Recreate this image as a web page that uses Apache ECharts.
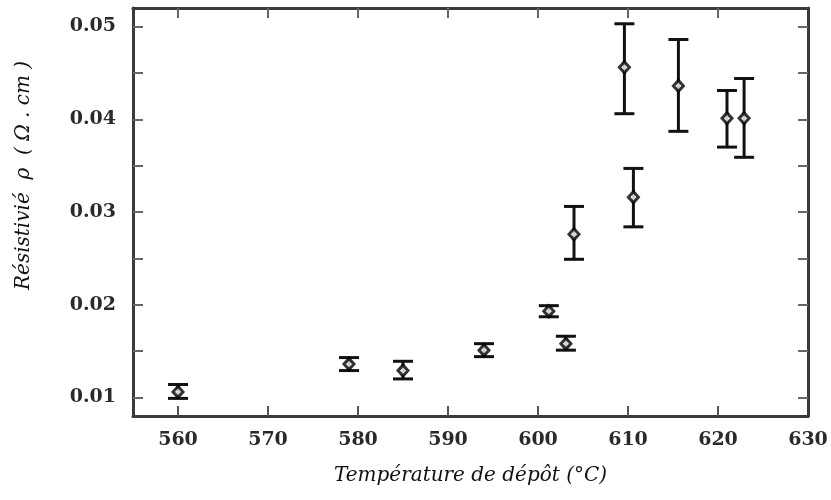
<!DOCTYPE html>
<html>
<head>
<meta charset="utf-8">
<script src="https://cdn.jsdelivr.net/npm/echarts@6/dist/echarts.min.js"></script>
<style>
  html, body { margin: 0; padding: 0; background: #fff; }
  #chart { width: 831px; height: 500px; }
</style>
</head>
<body>
<div id="chart"></div>
<script>
// deposition temperature (°C) and resistivity (Ω.cm)
const temps = [560, 579, 585, 594, 601.2, 603.1, 604, 609.6, 610.6, 615.6, 621, 622.9];
const rho = [0.0106, 0.0136, 0.0129, 0.0151, 0.0193, 0.0158, 0.0276, 0.0456, 0.0316, 0.0436, 0.0401, 0.0401];
const rhoLow = [0.0099, 0.0129, 0.0120, 0.0144, 0.0187, 0.0151, 0.0249, 0.0406, 0.0284, 0.0387, 0.0370, 0.0359];
const rhoHigh = [0.0114, 0.0143, 0.0139, 0.0158, 0.0199, 0.0166, 0.0306, 0.0503, 0.0347, 0.0486, 0.0431, 0.0444];

const xTicks = [560, 570, 580, 590, 600, 610, 620];
const xLabels = [560, 570, 580, 590, 600, 610, 620, 630];
const yTicks = [0.01, 0.015, 0.02, 0.025, 0.03, 0.035, 0.04, 0.045, 0.05];
const yLabels = [0.01, 0.02, 0.03, 0.04, 0.05];

const ink = '#111';
const frame = { show: true, lineStyle: { color: '#3a3a3a', width: 3 } };
const labelFont = {
  fontFamily: 'DejaVu Serif',
  fontWeight: 'bold',
  fontSize: 19,
  color: '#2a2a2a',
};

const chart = echarts.init(document.getElementById('chart'));

const errData = temps.map((t, i) => [t, rhoLow[i], rhoHigh[i]]);

chart.setOption({
  animation: false,
  grid: { left: 133, top: 8, right: 23, bottom: 84 },
  xAxis: [
    {
      type: 'value',
      position: 'bottom',
      min: 555,
      max: 630,
      axisLine: frame,
      splitLine: { show: false },
      axisTick: {
        show: true, inside: true, length: 10, customValues: xTicks,
        lineStyle: { color: '#555', width: 2 },
      },
      axisLabel: { ...labelFont, margin: 15, customValues: xLabels },
      name: 'Température de dépôt (°C)',
      nameLocation: 'middle',
      nameGap: 50,
      nameTextStyle: {
        fontFamily: 'DejaVu Serif', fontStyle: 'italic',
        fontSize: 20, color: '#111',
      },
    },
    {
      type: 'value',
      position: 'top',
      min: 555,
      max: 630,
      axisLine: frame,
      splitLine: { show: false },
      axisTick: {
        show: true, inside: true, length: 10, customValues: xTicks,
        lineStyle: { color: '#666', width: 2 },
      },
      axisLabel: { show: false },
    },
  ],
  yAxis: [
    {
      type: 'value',
      position: 'left',
      min: 0.008,
      max: 0.052,
      axisLine: frame,
      splitLine: { show: false },
      axisTick: {
        show: true, inside: true, length: 10, customValues: yTicks,
        lineStyle: { color: '#666', width: 2 },
      },
      axisLabel: {
        ...labelFont, margin: 17, customValues: yLabels,
        formatter: (v) => v.toFixed(2),
      },
    },
    {
      type: 'value',
      position: 'right',
      min: 0.008,
      max: 0.052,
      axisLine: frame,
      splitLine: { show: false },
      axisTick: {
        show: true, inside: true, length: 10, customValues: yTicks,
        lineStyle: { color: '#666', width: 2 },
      },
      axisLabel: { show: false },
    },
  ],
  graphic: [
    {
      type: 'text',
      x: 14,
      y: 290,
      rotation: Math.PI / 2,
      style: {
        text: 'Résistivié  ρ  ( Ω . cm )',
        font: 'italic 20px "DejaVu Serif"',
        fill: '#111',
        verticalAlign: 'top',
      },
    },
  ],
  series: [
    {
      type: 'custom',
      xAxisIndex: 0,
      yAxisIndex: 0,
      data: errData,
      renderItem: (params, api) => {
        const x = api.value(0);
        const lo = api.coord([x, api.value(1)]);
        const hi = api.coord([x, api.value(2)]);
        const half = 10;
        const style = { stroke: ink, lineWidth: 3 };
        return {
          type: 'group',
          children: [
            { type: 'line', shape: { x1: lo[0], y1: lo[1], x2: hi[0], y2: hi[1] }, style },
            { type: 'line', shape: { x1: lo[0] - half, y1: lo[1], x2: lo[0] + half, y2: lo[1] }, style },
            { type: 'line', shape: { x1: hi[0] - half, y1: hi[1], x2: hi[0] + half, y2: hi[1] }, style },
          ],
        };
      },
      z: 2,
    },
    {
      type: 'scatter',
      xAxisIndex: 0,
      yAxisIndex: 0,
      data: temps.map((t, i) => [t, rho[i]]),
      symbol: 'diamond',
      symbolSize: [10, 11],
      itemStyle: { color: '#fff', borderColor: '#000', borderWidth: 3 },
      z: 3,
    },
  ],
});
</script>
</body>
</html>
